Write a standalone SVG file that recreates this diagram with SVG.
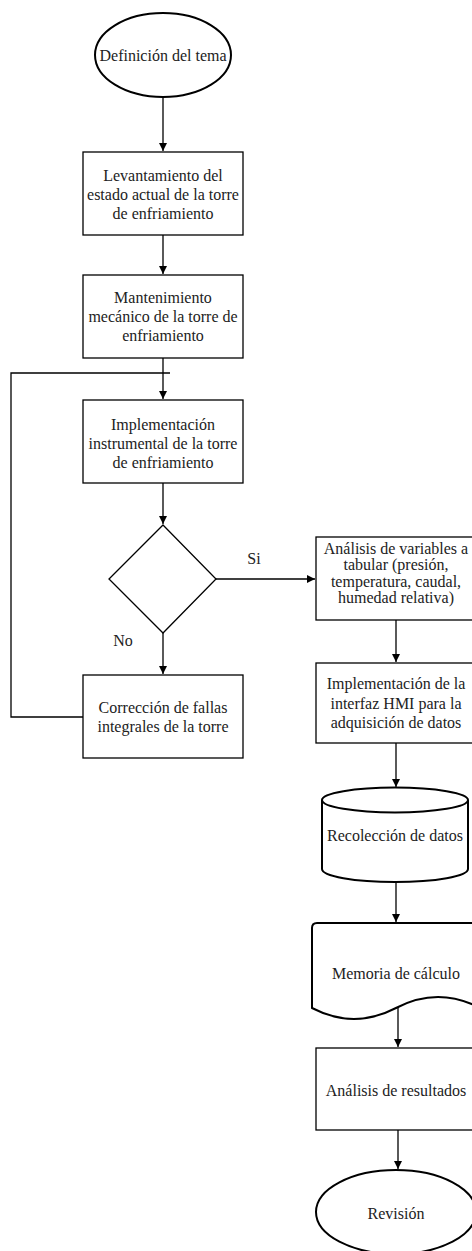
<svg xmlns="http://www.w3.org/2000/svg" width="472" height="1251" viewBox="0 0 472 1251">
<defs>
<style>
.box{fill:#fff;stroke:#000;stroke-width:1.3}
.thick{fill:#fff;stroke:#000;stroke-width:2}
.ln{fill:none;stroke:#000;stroke-width:1.3}
.t{font-family:'Liberation Serif','Times New Roman','DejaVu Serif',serif;font-size:16px;fill:#222;text-anchor:middle;dominant-baseline:central}
</style>
<marker id="ah" viewBox="0 0 10 10" refX="10" refY="5" markerWidth="8" markerHeight="8" markerUnits="userSpaceOnUse" orient="auto">
<path d="M0,0 L10,5 L0,10 z" fill="#000"/>
</marker>
</defs>
<rect width="472" height="1251" fill="#fff"/>
<g id="connectors">
<path class="ln" d="M163,97 V151" marker-end="url(#ah)"/>
<path class="ln" d="M163,235 V274" marker-end="url(#ah)"/>
<path class="ln" d="M163,358 V399" marker-end="url(#ah)"/>
<path class="ln" d="M83,717 H11 V373 H170"/>
<path class="ln" d="M163,483 V524" marker-end="url(#ah)"/>
<path class="ln" d="M163,633 V674" marker-end="url(#ah)"/>
<path class="ln" d="M215,579 H315" marker-end="url(#ah)"/>
<path class="ln" d="M396,620 V662" marker-end="url(#ah)"/>
<path class="ln" d="M396,743 V787" marker-end="url(#ah)"/>
<path class="ln" d="M396,882 V922" marker-end="url(#ah)"/>
<path class="ln" d="M398,1008 V1047" marker-end="url(#ah)"/>
<path class="ln" d="M398,1130 V1169" marker-end="url(#ah)"/>
</g>
<g id="n1">
<ellipse class="thick" cx="163" cy="55" rx="68" ry="42"/>
<text class="t" x="163" y="55">Definición del tema</text>
</g>
<g id="n2">
<rect class="box" x="83" y="152" width="160" height="83"/>
<text class="t" x="163" y="175">Levantamiento del</text>
<text class="t" x="163" y="194">estado actual de la torre</text>
<text class="t" x="163" y="213">de enfriamiento</text>
</g>
<g id="n3">
<rect class="box" x="83" y="275" width="160" height="83"/>
<text class="t" x="163" y="297">Mantenimiento</text>
<text class="t" x="163" y="316">mecánico de la torre de</text>
<text class="t" x="163" y="335">enfriamiento</text>
</g>
<g id="n4">
<rect class="box" x="83" y="400" width="160" height="83"/>
<text class="t" x="163" y="424">Implementación</text>
<text class="t" x="163" y="443">instrumental de la torre</text>
<text class="t" x="163" y="462">de enfriamiento</text>
</g>
<g id="n5">
<path class="box" d="M163,525 L216,579 L163,633 L109,579 Z"/>
</g>
<g id="labels">
<text class="t" x="254" y="558">Si</text>
<text class="t" x="123" y="640">No</text>
</g>
<g id="n6">
<rect class="box" x="83" y="675" width="160" height="83"/>
<text class="t" x="163" y="707">Corrección de fallas</text>
<text class="t" x="163" y="726">integrales de la torre</text>
</g>
<g id="n7">
<rect class="box" x="316" y="537" width="160" height="83"/>
<text class="t" x="396" y="548">Análisis de variables a</text>
<text class="t" x="396" y="564.5">tabular (presión,</text>
<text class="t" x="396" y="581">temperatura, caudal,</text>
<text class="t" x="396" y="597.5">humedad relativa)</text>
</g>
<g id="n8">
<rect class="box" x="316" y="663" width="160" height="80"/>
<text class="t" x="396" y="683">Implementación de la</text>
<text class="t" x="396" y="703">interfaz HMI para la</text>
<text class="t" x="396" y="722">adquisición de datos</text>
</g>
<g id="n9">
<path class="thick" d="M322,800 A73,12.5 0 0 1 468,800 V869 A73,13 0 0 1 322,869 Z"/>
<path class="thick" fill="none" d="M322,800 A73,12.5 0 0 0 468,800"/>
<text class="t" x="395" y="835">Recolección de datos</text>
</g>
<g id="n10">
<path class="thick" d="M317,923 H480 V1008 Q438,986 396,1008 Q354,1030 312,1008 V928 Q312,923 317,923 Z"/>
<text class="t" x="396" y="973">Memoria de cálculo</text>
</g>
<g id="n11">
<rect class="box" x="316" y="1048" width="160" height="82"/>
<text class="t" x="396" y="1090">Análisis de resultados</text>
</g>
<g id="n12">
<ellipse class="thick" cx="396" cy="1212" rx="80" ry="42"/>
<text class="t" x="396" y="1213">Revisión</text>
</g>
</svg>
